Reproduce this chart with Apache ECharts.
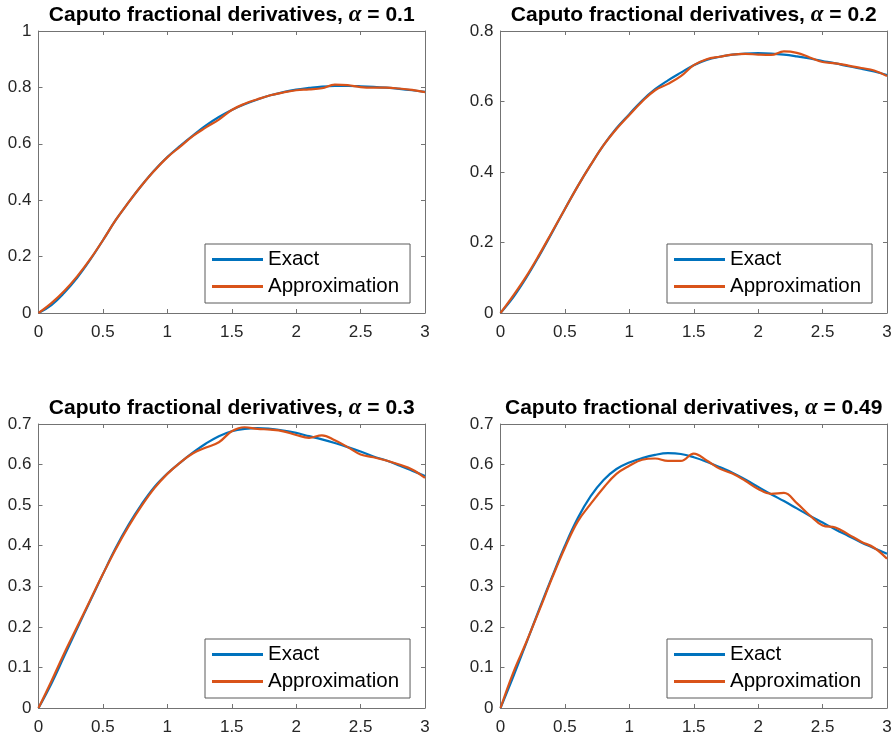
<!DOCTYPE html>
<html lang="en">

<head>
	<meta charset="utf-8">
	<title>Caputo fractional derivatives</title>
	<style>
		html, body { margin: 0; padding: 0; background: #fff; }
		#panel { width: 895px; height: 738px; }
	</style>
</head>

<body>
	<div id="panel"></div>

	<script src="https://cdn.jsdelivr.net/npm/echarts@6/dist/echarts.min.js"></script>
	<script type="text/javascript">
		// x 取样点 (0 ~ 3, 步长 0.1)
		const xs = [0, 0.1, 0.2, 0.3, 0.4, 0.5, 0.6, 0.7, 0.8, 0.9, 1.0,
			1.1, 1.2, 1.3, 1.4, 1.5, 1.6, 1.7, 1.8, 1.9, 2.0,
			2.1, 2.2, 2.3, 2.4, 2.5, 2.6, 2.7, 2.8, 2.9, 3.0];

		const alphas = ['0.1', '0.2', '0.3', '0.49'];
		const legendNames = ['Exact', 'Approximation'];

		// alpha = 0.1
		const exact1 = [0, 0.028, 0.072, 0.125, 0.188, 0.258, 0.33, 0.393, 0.452, 0.506, 0.553,
			0.593, 0.63, 0.665, 0.695, 0.72, 0.74, 0.757, 0.772, 0.783, 0.792,
			0.798, 0.803, 0.805, 0.805, 0.804, 0.802, 0.799, 0.795, 0.79, 0.784];
		const approx1 = [0, 0.035, 0.078, 0.13, 0.19, 0.258, 0.33, 0.393, 0.452, 0.505, 0.552,
			0.59, 0.628, 0.658, 0.686, 0.72, 0.742, 0.758, 0.772, 0.782, 0.79,
			0.793, 0.797, 0.81, 0.808, 0.801, 0.799, 0.799, 0.796, 0.791, 0.783];

		// alpha = 0.2
		const exact2 = [0, 0.045, 0.1, 0.162, 0.228, 0.295, 0.36, 0.42, 0.476, 0.524, 0.564,
			0.603, 0.635, 0.66, 0.682, 0.703, 0.718, 0.727, 0.733, 0.736, 0.737,
			0.736, 0.733, 0.728, 0.722, 0.715, 0.708, 0.700, 0.693, 0.685, 0.675];
		const approx2 = [0, 0.05, 0.104, 0.165, 0.23, 0.295, 0.36, 0.42, 0.476, 0.522, 0.562,
			0.6, 0.632, 0.65, 0.672, 0.703, 0.72, 0.727, 0.733, 0.735, 0.733,
			0.732, 0.742, 0.738, 0.725, 0.712, 0.708, 0.702, 0.695, 0.688, 0.672];

		// alpha = 0.3
		const exact3 = [0, 0.06, 0.128, 0.196, 0.263, 0.33, 0.395, 0.452, 0.502, 0.545, 0.578,
			0.605, 0.63, 0.652, 0.67, 0.682, 0.688, 0.69, 0.688, 0.684, 0.678,
			0.670, 0.662, 0.653, 0.643, 0.632, 0.62, 0.61, 0.598, 0.585, 0.572];
		const approx3 = [0, 0.066, 0.135, 0.2, 0.265, 0.33, 0.392, 0.448, 0.498, 0.542, 0.577,
			0.605, 0.628, 0.642, 0.655, 0.682, 0.692, 0.688, 0.686, 0.682, 0.673,
			0.666, 0.672, 0.66, 0.643, 0.625, 0.618, 0.61, 0.6, 0.588, 0.567];

		// alpha = 0.49
		const exact4 = [0, 0.078, 0.16, 0.243, 0.323, 0.40, 0.468, 0.522, 0.562, 0.589, 0.605,
			0.616, 0.624, 0.628, 0.626, 0.618, 0.607, 0.594, 0.58, 0.563, 0.545,
			0.527, 0.51, 0.492, 0.474, 0.457, 0.44, 0.424, 0.408, 0.394, 0.38];
		const approx4 = [0, 0.088, 0.162, 0.24, 0.32, 0.395, 0.46, 0.503, 0.543, 0.577, 0.597,
			0.612, 0.615, 0.609, 0.609, 0.627, 0.61, 0.59, 0.578, 0.56, 0.54,
			0.528, 0.53, 0.505, 0.475, 0.45, 0.445, 0.428, 0.41, 0.395, 0.368];

		const exactList = [exact1, exact2, exact3, exact4];
		const approxList = [approx1, approx2, approx3, approx4];
		const yMaxList = [1, 0.8, 0.7, 0.7];
		const yStepList = [0.2, 0.2, 0.1, 0.1];

		// 四个子图的位置
		const grids = [
			{ left: 38.5, top: 31, width: 386.5, height: 282 },
			{ left: 500.5, top: 31, width: 386.5, height: 282 },
			{ left: 38.5, top: 424, width: 386.5, height: 284 },
			{ left: 500.5, top: 424, width: 386.5, height: 284 }
		];

		const font = "'Liberation Sans', Arial, sans-serif";
		const boxColor = '#737373';

		function pairs(ys) {
			return xs.map((x, i) => [x, ys[i]]);
		}

		const xAxis = [], yAxis = [], series = [], title = [], legend = [];

		grids.forEach((g, i) => {
			// 下 / 左 主坐标轴 + 上 / 右 只有刻度的框线
			['bottom', 'top'].forEach((pos) => {
				xAxis.push({
					type: 'value', gridIndex: i, position: pos,
					min: 0, max: 3, interval: 0.5,
					axisLine: { show: true, onZero: false, lineStyle: { color: boxColor, width: 1 } },
					axisTick: { show: true, inside: true, length: 4, lineStyle: { color: boxColor } },
					axisLabel: { show: pos === 'bottom', margin: 11, color: '#262626', fontSize: 17, fontFamily: font },
					splitLine: { show: false }
				});
			});
			['left', 'right'].forEach((pos) => {
				yAxis.push({
					type: 'value', gridIndex: i, position: pos,
					min: 0, max: yMaxList[i], interval: yStepList[i],
					axisLine: { show: true, onZero: false, lineStyle: { color: boxColor, width: 1 } },
					axisTick: { show: true, inside: true, length: 4, lineStyle: { color: boxColor } },
					axisLabel: { show: pos === 'left', margin: 7, color: '#262626', fontSize: 17, fontFamily: font },
					splitLine: { show: false }
				});
			});

			series.push({
				name: 'Exact', type: 'line', xAxisIndex: i * 2, yAxisIndex: i * 2,
				data: pairs(exactList[i]), smooth: 0.4, symbol: 'none',
				lineStyle: { color: '#0072BD', width: 2.2 }, itemStyle: { color: '#0072BD' }
			});
			series.push({
				name: 'Approximation', type: 'line', xAxisIndex: i * 2, yAxisIndex: i * 2,
				data: pairs(approxList[i]), smooth: 0.4, symbol: 'none',
				lineStyle: { color: '#D95319', width: 2.2 }, itemStyle: { color: '#D95319' }
			});

			title.push({
				text: 'Caputo fractional derivatives, {a|α} = ' + alphas[i],
				left: g.left + g.width / 2, top: g.top - 27, textAlign: 'center', padding: 0,
				textStyle: {
					fontSize: 21, fontWeight: 'bold', color: '#000', fontFamily: font, lineHeight: 23,
					rich: {
						a: { fontFamily: "'Liberation Serif', serif", fontStyle: 'italic', fontWeight: 'bold', fontSize: 23, color: '#000' }
					}
				}
			});

			// 图例在右下角
			legend.push({
				data: legendNames, orient: 'vertical',
				left: g.left + 166.5, top: g.top + g.height - 69,
				padding: [5, 11, 6, 7], itemGap: 6,
				icon: 'rect', itemWidth: 51, itemHeight: 3,
				backgroundColor: '#fff', borderColor: '#5a5a5a', borderWidth: 1,
				textStyle: { fontSize: 20.5, lineHeight: 21, color: '#000', fontFamily: font },
				selectedMode: false
			});
		});

		const panel = echarts.init(document.getElementById('panel'));
		panel.setOption({
			animation: false,
			backgroundColor: '#fff',
			title: title,
			legend: legend,
			grid: grids,
			xAxis: xAxis,
			yAxis: yAxis,
			series: series
		});
	</script>
</body>

</html>
